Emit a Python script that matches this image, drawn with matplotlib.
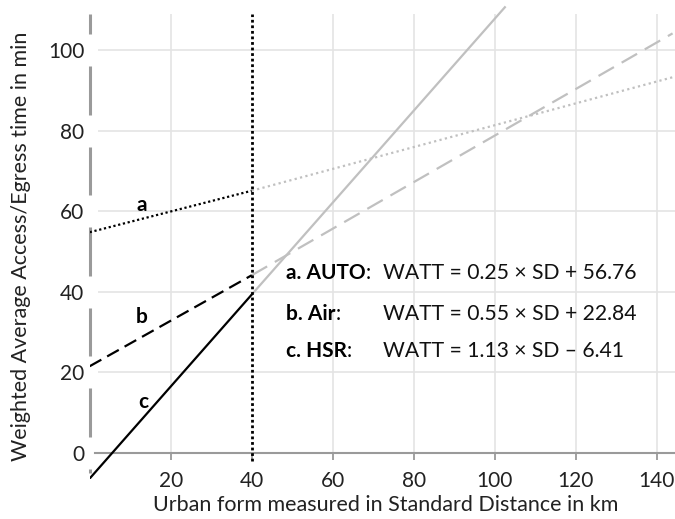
import matplotlib.pyplot as plt

plt.rcParams['font.family'] = ['Lato', 'DejaVu Sans']

# lines: start, 40 km, end
line_names = ['a', 'b', 'c']
a_x = [0, 40, 143.9]
a_y = [54.8, 65.1, 93.3]
b_x = [0, 40, 143.9]
b_y = [21.5, 44.1, 104.2]
c_x = [0, 40, 102.5]
c_y = [-6.4, 39.3, 110.7]
name_pos = [(12.8, 61.5), (12.8, 33.8), (13.2, 12.7)]

eq_bold = ['a. AUTO', 'b. Air', 'c. HSR']
eq_text = ['WATT = 0.25 × SD + 56.76', 'WATT = 0.55 × SD + 22.84', 'WATT = 1.13 × SD \u2013 6.41']
eq_y = [44.7, 34.5, 25.2]

x_ticks = [20, 40, 60, 80, 100, 120, 140]
y_ticks = [0, 20, 40, 60, 80, 100]

fig = plt.figure(figsize=(6.75, 5.19), dpi=100)
ax = fig.add_axes([89.7 / 675, 1 - 478.9 / 519, 585.3 / 675, 478.9 / 519])
ax.set_xlim(0, 144.5)
ax.set_ylim(-6.5, 112.5)

# grid
grid_c = '#e4e4e4'
for yv in y_ticks[1:]:
    ax.hlines(yv, 2, 144.5, color=grid_c, lw=1.2, zorder=1)
for xv in x_ticks:
    if xv != 40:
        ax.vlines(xv, 0, 109, color=grid_c, lw=1.2, zorder=1)

# y axis drawn in pieces, broken at each label
gap = 4.0
breaks = [-5] + [v for t in y_ticks for v in (t - gap, t + gap)] + [109]
for i in range(0, len(breaks), 2):
    lo, hi = breaks[i], breaks[i + 1]
    if hi > lo:
        ax.plot([0, 0], [lo, hi], color='#9a9a9a', lw=2.2, solid_capstyle='butt',
                clip_on=False, zorder=2)

# x axis at y = 0
for s in ['top', 'right', 'left']:
    ax.spines[s].set_visible(False)
ax.spines['bottom'].set_position(('data', 0))
ax.spines['bottom'].set_color('#9a9a9a')
ax.spines['bottom'].set_linewidth(1.5)
ax.spines['bottom'].set_bounds(1.3, 144.5)
ax.set_xticks(x_ticks)
ax.tick_params(axis='x', length=5, width=1.3, color='#9a9a9a', pad=8, labelsize=15,
               labelcolor='#222222')
ax.set_yticks(y_ticks)
ax.tick_params(axis='y', length=0, pad=4, labelsize=15, labelcolor='#222222')

# vertical marker at 40 km
ax.vlines(40, -2, 109, color='black', lw=2, linestyles=[(0, (1, 1))], zorder=4)

styles = [(0, (1, 1.2)), (0, (6, 3)), '-']
gray_styles = [(0, (1, 1.5)), (0, (8, 4)), '-']
for i, (xs, ys) in enumerate([(a_x, a_y), (b_x, b_y), (c_x, c_y)]):
    ax.plot(xs[:2], ys[:2], color='black', lw=1.6, linestyle=styles[i], zorder=5)
    ax.plot(xs[1:], ys[1:], color='#c0c0c0', lw=1.6, linestyle=gray_styles[i], zorder=3)
    ax.text(name_pos[i][0], name_pos[i][1], line_names[i], fontsize=15, fontweight='bold',
            ha='center', va='center', zorder=6)

for i in range(3):
    t = ax.text(48.5, eq_y[i], eq_bold[i], fontsize=15, fontweight='bold', ha='left',
                va='center', zorder=6)
    ax.annotate(':', xy=(1, 0), xycoords=t, ha='left', va='bottom', fontsize=15, zorder=6)
    ax.text(72.5, eq_y[i], eq_text[i], fontsize=15.2, ha='left', va='center',
            color='#111111', zorder=6)

ax.set_xlabel('Urban form measured in Standard Distance in km', fontsize=15.5, color='#222222')
ax.xaxis.set_label_coords(0.505, -(495 - 478.9) / 478.9)
ax.set_ylabel('Weighted Average Access/Egress time in min', fontsize=15.5, color='#222222')
ax.yaxis.set_label_coords(-(89.7 - 31) / 585.3, (478.9 - 246) / 478.9)

fig.savefig('out.png', dpi=100)
